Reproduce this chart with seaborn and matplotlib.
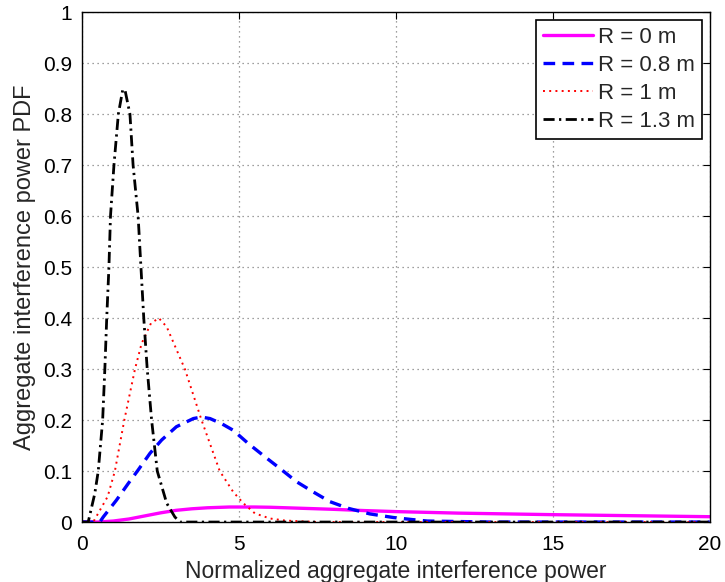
import numpy as np
import pandas as pd
import matplotlib
matplotlib.use("Agg")
import matplotlib.pyplot as plt
import seaborn as sns

# Data
x_r0 = [0, 0.5, 1.0, 1.5, 2.0, 2.5, 3.0, 3.5, 4.0, 4.7, 5.5, 6.0, 7.0, 8.0, 9.0, 10.0, 11.0, 12.0, 13.5, 15.0, 17.5, 20.0]
y_r0 = [0, 0.0, 0.002, 0.006, 0.012, 0.018, 0.023, 0.026, 0.028, 0.0295, 0.0295, 0.029, 0.027, 0.025, 0.0225, 0.0205, 0.019, 0.0175, 0.016, 0.0145, 0.0125, 0.0105]

x_r08 = [0, 0.57, 0.68, 1.10, 1.48, 1.79, 2.17, 2.54, 3.01, 3.55, 3.80, 4.08, 4.45, 4.82, 5.30, 5.83, 6.31, 6.84, 7.37, 7.90, 8.48, 9.17, 9.91, 10.5, 11.0, 12.0, 13.0, 20.0]
y_r08 = [0, 0.0, 0.010, 0.043, 0.076, 0.102, 0.135, 0.161, 0.187, 0.203, 0.206, 0.203, 0.193, 0.180, 0.154, 0.128, 0.105, 0.079, 0.059, 0.040, 0.027, 0.016, 0.009, 0.005, 0.002, 0.001, 0.0, 0.0]

x_r1 = [0, 0.36, 0.82, 1.05, 1.35, 1.69, 1.90, 2.20, 2.45, 2.70, 3.28, 3.81, 4.39, 4.82, 5.14, 5.51, 5.99, 6.46, 7.50, 20.0]
y_r1 = [0, 0.0, 0.05, 0.10, 0.20, 0.30, 0.35, 0.39, 0.40, 0.383, 0.30, 0.20, 0.10, 0.059, 0.037, 0.017, 0.007, 0.003, 0.0, 0.0]

x_r13 = [0, 0.20, 0.41, 0.52, 0.66, 0.73, 0.79, 0.86, 0.91, 1.02, 1.16, 1.30, 1.37, 1.53, 1.63, 1.79, 1.88, 1.97, 2.08, 2.22, 2.40, 2.70, 2.96, 3.12, 3.5, 20.0]
y_r13 = [0, 0.0, 0.056, 0.10, 0.20, 0.30, 0.40, 0.50, 0.60, 0.70, 0.80, 0.848, 0.848, 0.80, 0.70, 0.60, 0.50, 0.40, 0.30, 0.20, 0.10, 0.037, 0.010, 0.0, 0.0, 0.0]

labels = ["R = 0 m", "R = 0.8 m", "R = 1 m", "R = 1.3 m"]
xticks = [0, 5, 10, 15, 20]
yticks = [0, 0.1, 0.2, 0.3, 0.4, 0.5, 0.6, 0.7, 0.8, 0.9, 1]
ytick_labels = ["0", "0.1", "0.2", "0.3", "0.4", "0.5", "0.6", "0.7", "0.8", "0.9", "1"]

sns.set_style("white")
plt.rcParams["font.family"] = ["Liberation Sans", "DejaVu Sans"]

fig = plt.figure(figsize=(7.25, 5.82), dpi=100)
ax = fig.add_axes([0.113, 0.103, 0.866, 0.876])

series = [
    (x_r0, y_r0, labels[0], "#ff00ff", "-", 2.4),
    (x_r08, y_r08, labels[1], "#0000ff", (0, (3.5, 2.2)), 2.4),
    (x_r1, y_r1, labels[2], "#ff0000", (0, (1, 2.2)), 1.4),
    (x_r13, y_r13, labels[3], "#000000", (0, (4, 1.6, 0.8, 1.6)), 2.0),
]
for xs, ys, lab, col, ls, lw in series:
    df = pd.DataFrame({"x": xs, "y": ys})
    sns.lineplot(data=df, x="x", y="y", ax=ax, color=col, linestyle=ls,
                 linewidth=lw, label=lab, sort=False, estimator=None)

ax.set_xlim(0, 20)
ax.set_ylim(0, 1)
ax.set_xticks(xticks)
ax.set_yticks(yticks)
ax.set_yticklabels(ytick_labels)
ax.tick_params(direction="in", length=5, width=0.8, top=True, right=True,
               labelsize=15, colors="black")
ax.tick_params(axis="y", pad=7)
ax.tick_params(axis="x", pad=9)
ax.grid(True, linestyle=(0, (1, 3)), color="#808080", linewidth=0.9)
for s in ax.spines.values():
    s.set_visible(True)
    s.set_color("black")
    s.set_linewidth(1.0)
ax.set_xlabel("Normalized aggregate interference power", fontsize=16.5, labelpad=5)
ax.set_ylabel("Aggregate interference power PDF", fontsize=17, labelpad=5)

leg = ax.legend(loc="upper right", fontsize=16, frameon=True, fancybox=False,
                handlelength=2.25, handletextpad=0.24, borderpad=0.3,
                labelspacing=0.32, borderaxespad=0.35)
leg.get_frame().set_edgecolor("black")
leg.get_frame().set_linewidth(1.2)
leg.get_frame().set_alpha(1)

fig.savefig("out.png", dpi=100)
